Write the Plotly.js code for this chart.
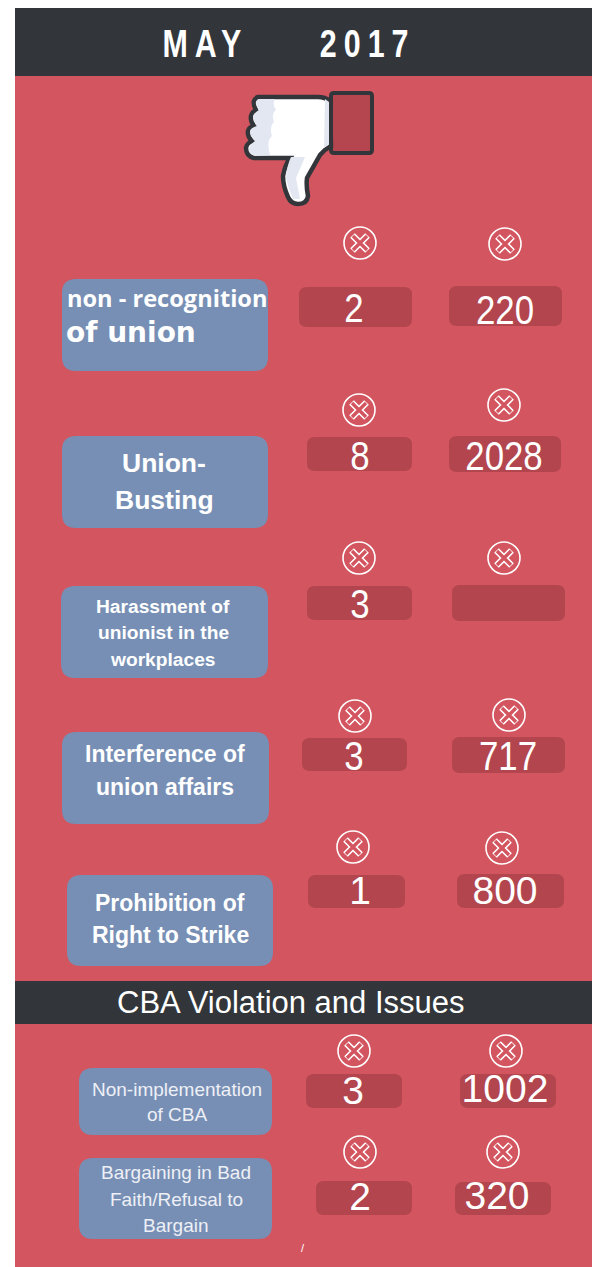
<!DOCTYPE html>
<html><head><meta charset="utf-8">
<script src="https://cdn.plot.ly/plotly-3.0.1.min.js"></script>
<style>html,body{margin:0;padding:0;background:#fff;overflow:hidden}#c{width:594px;height:1267px}</style>
</head><body><div id="c"></div>
<script>
// ---- content ----
const chartTitle = "MAY\u00a0\u00a0\u00a0\u00a0\u200a2017";
const sectionTitle = "CBA Violation and Issues";
const categories = ["non - recognition<br>of union","Union-<br>Busting","Harassment of<br>unionist in the<br>workplaces","Interference of<br>union affairs","Prohibition of<br>Right to Strike","Non-implementation<br>of CBA","Bargaining in Bad<br>Faith/Refusal to<br>Bargain"];
const casesValues = [2,8,3,3,1,3,2];
const workersValues = [220,2028,null,717,800,1002,320];

// ---- layout geometry (page pixels, kept apart from the data) ----
const W=594,H=1267;
const labelBoxes=[[62,268,279,371],[62,268,436,528],[61,268,586,678],[62,269,732,824],[67,273,875,966],[79,272,1068,1135],[79,272,1158,1239]];
const box1=[[299,412,287,327],[307,412,437,471],[307,412,586,620],[302,407,738,771],[308,405,875,908],[306,402,1074,1108],[316,412,1181,1215]];
const box2=[[449,562,286,326],[449,561,436,472],[452,565,585,621],[452,565,737,773],[457,564,874,908],[460,556,1074,1108],[455,551,1182,1215]];
const text1=[[354,312],[360,460],[360,608],[354,760],[360,894],[353,1094],[360,1200]];
const text2=[[505,314],[504,460],[508,606],[508,760],[505,894],[505,1092],[497,1199]];
const icon1=[[360,243],[359,410],[359,558],[355,716],[353,847],[354,1051],[360,1152]];
const icon2=[[505,244],[504,405],[504,558],[509,715],[502,848],[506,1051],[503,1152]];
const numSize=[40,40,40,40,39,39,39];
const numStretch=[0.87,0.87,0.87,0.87,1,1,1];
// label text: x centre, y of each line's centre, size, weight
const labelX=[167,164,163,165,170,177,176];
const labelLineY=[[298,332],[463,500],[606,632,659],[754,787],[903,935],[1089,1114],[1172,1199,1225]];
const labelSize=[23.6,26.5,19.2,23,23,19,19];
const labelWeight=[700,700,700,700,700,400,400];

const RED="#d3555f",BOX="#b2454e",BLUE="#778fb5",DARK="#32363a",PALE="#e3e7f1";

function rr(b,r){const [x0,x1,y0,y1]=b;
  return `M${x0+r},${y0}L${x1-r},${y0}Q${x1},${y0} ${x1},${y0+r}L${x1},${y1-r}Q${x1},${y1} ${x1-r},${y1}L${x0+r},${y1}Q${x0},${y1} ${x0},${y1-r}L${x0},${y0+r}Q${x0},${y0} ${x0+r},${y0}Z`;}
const S=(path,fill,line,w)=>({type:"path",xref:"x",yref:"y",path,fillcolor:fill,line:{color:line||fill,width:w||0},layer:"below"});
const R=(x0,x1,y0,y1,fill)=>({type:"rect",xref:"x",yref:"y",x0,x1,y0,y1,fillcolor:fill,line:{width:0},layer:"below"});

const handOutline="M258,97 L318,97 Q325,97 330,101 L331,146 Q325,149 320,155 L307,178 Q306,186 308,196 Q307,204 298,204 Q291,204 288,197 Q283,186 283,176 Q285,165 290,158 L254,158 Q246,156 246,148 Q247,143 252,141 Q247,136 248,131 Q249,127 254,126 Q250,121 251,116 Q252,112 256,110 Q253,104 254,101 Q255,98 258,97 Z";
const handPaleLeft="M259,99 L275,99 Q272,105 276,110 Q271,114 274,122 Q269,127 272,136 Q266,141 270,155 L255,156 Q249,154 249,149 Q250,145 255,141 Q250,136 250,131 Q251,128 257,126 Q253,121 253,116 Q254,113 259,110 Q255,104 256,102 Q257,99 259,99 Z";
const handPaleRight="M325,99 L329,102 L329,144 L324,148 Z";
const thumbPale="M291,157 L305,157 L296,178 L300,199 L293,199 Q288,188 286,178 Q287,165 291,157 Z";
const shapes=[
  R(15,592,8,1267,RED),
  R(15,592,8,76,DARK),
  R(15,592,981,1024,DARK),
  S(rr([331,372,93,153],3),"#b5464f",DARK,4),
  S(handOutline,"#ffffff",DARK,4.5),
  S(handPaleLeft,PALE),
  S(handPaleRight,PALE),
  S(thumbPale,PALE),
];
labelBoxes.forEach(b=>shapes.push(S(rr(b,14),BLUE)));
box1.concat(box2).forEach(b=>shapes.push(S(rr(b,8),BOX)));

const iconX=icon1.concat(icon2).map(p=>p[0]), iconY=icon1.concat(icon2).map(p=>p[1]);
const traces=[
 {type:"scatter",mode:"markers",x:iconX,y:iconY,hoverinfo:"skip",
  marker:{symbol:"circle",size:32,color:"rgba(0,0,0,0)",line:{color:"#fff",width:1.6}}},
 {type:"scatter",mode:"markers",x:iconX,y:iconY,hoverinfo:"skip",
  marker:{symbol:"x-thin-open",size:15,color:"#fff",line:{color:"#fff",width:6.6}}},
 {type:"scatter",mode:"markers",x:iconX,y:iconY,hoverinfo:"skip",
  marker:{symbol:"x-thin-open",size:14,color:RED,line:{color:RED,width:3.4}}},
 {type:"scatter",mode:"text",name:"cases",x:text1.map(p=>p[0]),y:text1.map(p=>p[1]),
  text:casesValues.map(String),textposition:"middle center",hoverinfo:"skip",
  textfont:{family:"Liberation Sans",size:numSize,color:"#fff"}},
 {type:"scatter",mode:"text",name:"workers",x:text2.map(p=>p[0]),y:text2.map(p=>p[1]),
  text:workersValues.map(v=>v===null?"":String(v)),textposition:"middle center",hoverinfo:"skip",
  textfont:{family:"Liberation Sans",size:numSize,color:"#fff"}}
];

const annotations=[];
categories.forEach((c,i)=>{
  c.split("<br>").forEach((line,k)=>{
    const a={xref:"x",yref:"y",x:labelX[i],y:labelLineY[i][k],text:line,showarrow:false,
      font:{family:"Liberation Sans",size:labelSize[i],weight:labelWeight[i],color:i>=5?"#eef0f5":"#fff"}};
    if(i===0&&k===0) a.font.family="Open Sans";
    if(i===0&&k===1){a.x=64;a.xanchor="left";a.font={family:"DejaVu Sans",size:28,weight:700,color:"#fff"};}
    annotations.push(a);
  });
});
annotations.push({xref:"x",yref:"y",x:291,y:1002,text:sectionTitle,showarrow:false,font:{family:"Liberation Sans",size:31,color:"#fff"}});
annotations.push({xref:"x",yref:"y",x:303,y:1248,text:"/",showarrow:false,font:{family:"Liberation Sans",size:11,color:"#fff"}});

const layout={width:W,height:H,margin:{l:0,r:0,t:0,b:0},paper_bgcolor:"#fff",plot_bgcolor:"rgba(0,0,0,0)",showlegend:false,
 title:{text:chartTitle,x:289/W,xanchor:"center",y:1-43/H,yanchor:"middle",font:{family:"Liberation Sans",size:39,weight:700,color:"#fff"}},
 xaxis:{range:[0,W],visible:false,fixedrange:true},
 yaxis:{range:[H,0],visible:false,fixedrange:true},
 shapes,annotations};
function squeeze(el,s){const x=el.getAttribute("x");el.setAttribute("transform",`translate(${x},0) scale(${s},1) translate(${-x},0)`);}
Plotly.newPlot("c",traces,layout,{displayModeBar:false,staticPlot:true}).then(()=>{
  const t=document.querySelector(".gtitle");
  if(t){t.style.letterSpacing="9px";squeeze(t,0.78);}
  // condensed numerals: rows are matched by their text because the empty cell draws no text node
  document.querySelectorAll(".scatterlayer .trace").forEach(tr=>{
    const nodes=[...tr.querySelectorAll(".textpoint text")];
    if(!nodes.length) return;
    const rows=casesValues.map((_,i)=>i).filter(i=>nodes.length===casesValues.length||workersValues[i]!==null);
    nodes.forEach((el,n)=>{ if(numStretch[rows[n]]!==1) squeeze(el,numStretch[rows[n]]); });
  });
});
</script></body></html>
